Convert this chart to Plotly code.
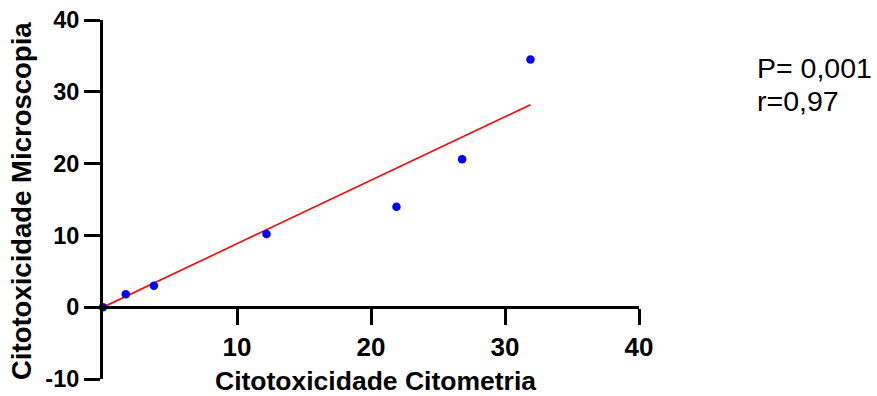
import plotly.graph_objects as go

# Data
citometria = [0.0, 1.7, 3.8, 12.2, 21.9, 26.8, 31.9]
microscopia = [0.0, 1.8, 3.0, 10.2, 14.0, 20.6, 34.5]
fit_x = [0.0, 31.9]
fit_y = [0.0, 28.2]
x_ticks = [10, 20, 30, 40]
y_ticks = [-10, 0, 10, 20, 30, 40]

FONT = "Liberation Sans, Arial, sans-serif"
L, R, T, B = 103, 238, 20, 17
W, H = 877, 396
PW, PH = W - L - R, H - T - B


def px(x):
    return (x - L) / PW


def py(y):
    return (H - B - y) / PH


fig = go.Figure()
fig.add_trace(go.Scatter(x=fit_x, y=fit_y, mode="lines",
                         line=dict(color="#ff0000", width=1.6),
                         cliponaxis=False, showlegend=False, hoverinfo="skip"))
fig.add_trace(go.Scatter(x=citometria, y=microscopia, mode="markers",
                         marker=dict(color="#0000ff", size=8.5),
                         cliponaxis=False, showlegend=False))

fig.update_layout(
    width=W, height=H,
    margin=dict(l=L, r=R, t=T, b=B),
    paper_bgcolor="white", plot_bgcolor="white",
    font=dict(family=FONT, color="black"),
    xaxis=dict(range=[0, 40], anchor="free", position=0.2, automargin=False,
               showline=True, linecolor="black", linewidth=3,
               ticks="outside", ticklen=16, tickwidth=3, tickcolor="black",
               tickvals=x_ticks, ticktext=[str(v) for v in x_ticks],
               tickfont=dict(family=FONT, size=26, weight="bold"),
               showgrid=False, zeroline=False),
    yaxis=dict(range=[-10, 40], automargin=False,
               showline=True, linecolor="black", linewidth=3,
               ticks="outside", ticklen=16, tickwidth=3, tickcolor="black",
               tickvals=y_ticks, ticktext=[str(v) for v in y_ticks],
               tickfont=dict(family=FONT, size=23.5, weight="bold"),
               showgrid=False, zeroline=False),
    annotations=[
        dict(text="Citotoxicidade Citometria", xref="paper", yref="paper",
             x=px(375), y=py(380.5), xanchor="center", yanchor="middle", showarrow=False,
             borderpad=0,
             font=dict(family=FONT, size=26.5, weight="bold")),
        dict(text="Citotoxicidade Microscopia", xref="paper", yref="paper",
             x=px(22), y=py(201), xanchor="center", yanchor="middle", textangle=-90,
             showarrow=False, font=dict(family=FONT, size=27.5, weight="bold")),
        dict(text="P= 0,001", xref="paper", yref="paper",
             x=px(755), y=py(68), xanchor="left", yanchor="middle", align="left",
             showarrow=False, font=dict(family=FONT, size=28.5)),
        dict(text="r=0,97", xref="paper", yref="paper",
             x=px(755), y=py(101), xanchor="left", yanchor="middle", align="left",
             showarrow=False, font=dict(family=FONT, size=28.5)),
    ],
)

fig.write_html("out.html")
